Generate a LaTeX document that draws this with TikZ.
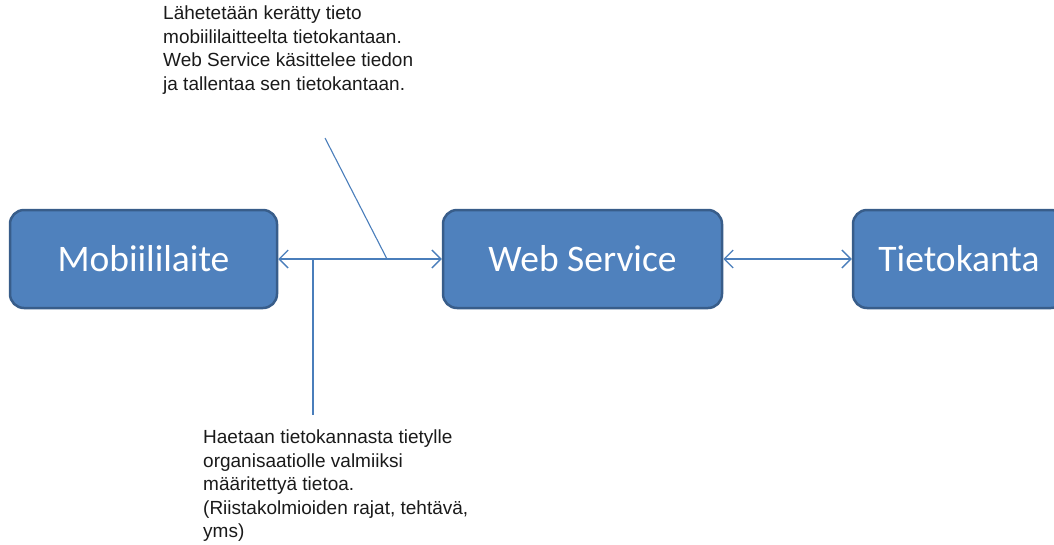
\documentclass[tikz,border=0pt]{standalone}
\usepackage{fontspec}
\setmainfont{Liberation Sans}
\newfontfamily\boxfont{Carlito}
\usetikzlibrary{arrows.meta}
\definecolor{boxfill}{HTML}{4F81BD}
\definecolor{boxline}{HTML}{385D8A}
\definecolor{linkcol}{HTML}{4A7EBB}
\definecolor{txt}{HTML}{1A1A1A}
\tikzset{
  boxnode/.style={draw=boxline, line width=2.5pt, fill=boxfill, rounded corners=14pt,
    text=white, font=\boxfont\fontsize{37.5}{44}\selectfont, inner sep=0pt},
  link/.style={draw=linkcol, line width=1.3pt, {Straight Barb[length=9pt,width=18pt]}-{Straight Barb[length=9pt,width=18pt]}},
  callline/.style={draw=linkcol, line width=1.1pt},
  note/.style={anchor=north west, align=left, text=txt, inner sep=0pt,
    font=\fontsize{19}{23.5}\selectfont}
}
\begin{document}
\begin{tikzpicture}[x=1pt,y=-1pt]
\useasboundingbox (0,0) rectangle (1054,544);
\node[boxnode, minimum width=212pt, minimum height=98pt] (db) at (959,259) {Tietokanta};
\node[boxnode, minimum width=267pt, minimum height=98pt] (mob) at (143.5,259) {Mobiililaite};
\node[boxnode, minimum width=279pt, minimum height=98pt] (ws) at (582.5,259) {Web Service};
\draw[link] (mob.east) -- (ws.west);
\draw[link] (ws.east) -- (db.west);
\coordinate (c1) at (387,259);
\coordinate (c1e) at (325,138);
\coordinate (c2) at (313,259);
\coordinate (c2e) at (313,415);
\draw[callline] (c1e) -- (c1);
\draw[callline] (c2) -- (c2e);
\node[note] (t1) at (163,6) {Lähetetään kerätty tieto\\mobiililaitteelta tietokantaan.\\Web Service käsittelee tiedon\\ja tallentaa sen tietokantaan.};
\node[note] (t2) at (203,430) {Haetaan tietokannasta tietylle\\organisaatiolle valmiiksi\\määritettyä tietoa.\\(Riistakolmioiden rajat, tehtävä,\\yms)};
\end{tikzpicture}
\end{document}
